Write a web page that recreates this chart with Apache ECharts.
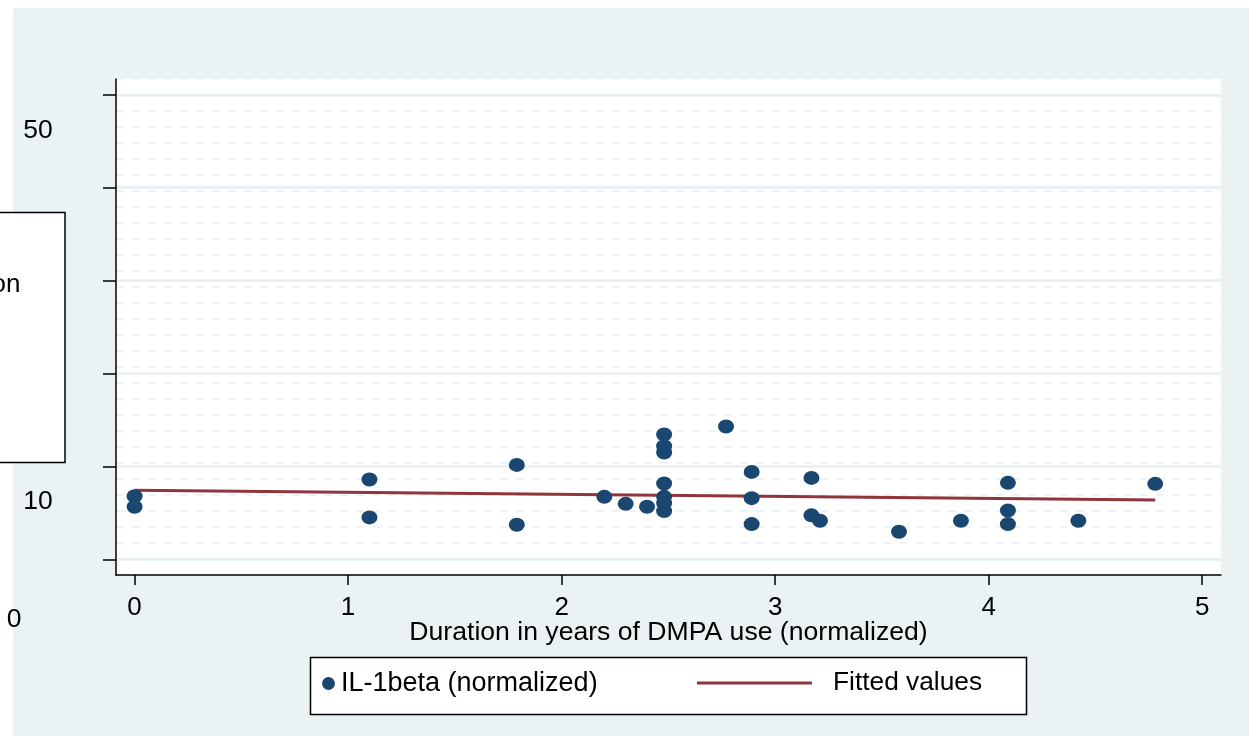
<!DOCTYPE html>
<html>
<head>
<meta charset="utf-8">
<script src="https://cdn.jsdelivr.net/npm/echarts@6/dist/echarts.min.js"></script>
<style>
html,body{margin:0;padding:0;background:#fff;}
#chart{width:1249px;height:736px;}
</style>
</head>
<body>
<div id="chart"></div>
<script>
// Duration in years of DMPA use (normalized)
const durationYears = [0.0, 0.0, 1.1, 1.1, 1.79, 1.79, 2.2, 2.3, 2.4,
  2.48, 2.48, 2.48, 2.48, 2.48, 2.48, 2.48, 2.77, 2.89, 2.89, 2.89,
  3.17, 3.17, 3.21, 3.58, 3.87, 4.09, 4.09, 4.09, 4.42, 4.78];
// IL-1beta (normalized)
const il1beta = [6.80, 5.65, 8.59, 4.51, 10.16, 3.72, 6.72, 5.97, 5.65,
  13.43, 12.17, 11.49, 8.16, 6.72, 6.05, 5.19, 14.29, 9.41, 6.58, 3.79,
  8.76, 4.73, 4.15, 2.96, 4.15, 8.23, 5.26, 3.79, 4.15, 8.12];
// Fitted values (endpoints of the regression line)
const fittedX = [0.0, 4.78];
const fittedY = [7.44, 6.37];
const xTicks = [0, 1, 2, 3, 4, 5];
const yTicks = [0, 10, 20, 30, 40, 50];
const leftLabels = ['50', '10', '0'];

const FONT = '"Liberation Sans", Arial, sans-serif';
const scatterData = durationYears.map((x, i) => [x, il1beta[i]]);
const fittedData = fittedX.map((x, i) => [x, fittedY[i]]);

const chart = echarts.init(document.getElementById('chart'), null, {renderer: 'canvas'});
chart.setOption({
  animation: false,
  backgroundColor: '#EAF2F3',
  textStyle: {fontFamily: FONT},
  grid: {left: 116, right: 28, top: 79, bottom: 161, show: true,
         backgroundColor: '#ffffff', borderWidth: 0},
  xAxis: {
    type: 'value', min: -0.087, max: 5.088,
    name: 'Duration in years of DMPA use (normalized)',
    nameLocation: 'middle', nameGap: 44, nameMoveOverlap: false,
    nameTextStyle: {color: '#000', fontSize: 26.6, fontFamily: FONT},
    axisLine: {show: true, onZero: false, lineStyle: {color: '#000', width: 1.5}},
    axisTick: {show: true, length: 10, customValues: xTicks, lineStyle: {color: '#000', width: 1.5}},
    axisLabel: {show: true, customValues: xTicks, margin: 20, color: '#000', fontSize: 26, fontFamily: FONT},
    splitLine: {show: false}
  },
  yAxis: [{
    type: 'value', min: 0, max: 31, interval: 1, position: 'left',
    axisLine: {show: false}, axisTick: {show: false}, axisLabel: {show: false},
    splitLine: {show: true, lineStyle: {color: '#E9EFF2', width: 1.5, type: [8, 8]}}
  }, {
    type: 'value', min: -1.69, max: 51.7, position: 'left', offset: 0,
    axisLine: {show: true, onZero: false, lineStyle: {color: '#000', width: 1.5}},
    axisTick: {show: true, length: 13, customValues: yTicks, lineStyle: {color: '#000', width: 1.5}},
    axisLabel: {show: false},
    splitLine: {show: true, lineStyle: {color: '#E6EFF2', width: 2.5}}
  }],
  legend: [{
    data: ['IL-1beta (normalized)'], left: 322, top: 670, padding: 0,
    itemWidth: 15, itemHeight: 13, icon: 'circle',
    textStyle: {color: '#000', fontSize: 27, fontFamily: FONT}
  }, {
    data: ['Fitted values'], left: 697, top: 670, padding: 0,
    itemWidth: 115, itemHeight: 3, icon: 'rect', itemGap: 0,
    textStyle: {color: '#000', fontSize: 26.3, fontFamily: FONT, padding: [0, 0, 0, 16]}
  }],
  graphic: [
    {type: 'rect', z: -1, shape: {x: 0, y: 0, width: 13, height: 736}, style: {fill: '#fff'}},
    {type: 'rect', z: -1, shape: {x: 0, y: 0, width: 1249, height: 8}, style: {fill: '#fff'}},
    {type: 'rect', z: 1, shape: {x: 310.5, y: 657.5, width: 716, height: 57},
     style: {fill: '#fff', stroke: '#000', lineWidth: 1.5}},
    {type: 'rect', z: 10, shape: {x: -2, y: 212.5, width: 67, height: 250},
     style: {fill: '#fff', stroke: '#000', lineWidth: 1.5}},
    {type: 'text', z: 11, style: {x: 20.5, y: 285, text: 'on', textAlign: 'right', textVerticalAlign: 'middle',
      font: '26px ' + FONT, fill: '#000'}},
    {type: 'text', z: 11, style: {x: 38, y: 131, text: leftLabels[0], textAlign: 'center', textVerticalAlign: 'middle',
      font: '26.5px ' + FONT, fill: '#000'}},
    {type: 'text', z: 11, style: {x: 38, y: 501.5, text: leftLabels[1], textAlign: 'center', textVerticalAlign: 'middle',
      font: '26.5px ' + FONT, fill: '#000'}},
    {type: 'text', z: 11, style: {x: 14, y: 620, text: leftLabels[2], textAlign: 'center', textVerticalAlign: 'middle',
      font: '26.5px ' + FONT, fill: '#000'}}
  ],
  series: [{
    name: 'Fitted values', type: 'line', yAxisIndex: 1, z: 2,
    data: fittedData, showSymbol: false, symbol: 'none',
    color: '#90353B', lineStyle: {color: '#90353B', width: 3}
  }, {
    name: 'IL-1beta (normalized)', type: 'scatter', yAxisIndex: 1, z: 3,
    data: scatterData, symbol: 'circle', symbolSize: [16, 14],
    itemStyle: {color: '#1A476F', opacity: 1}
  }]
});
</script>
</body>
</html>
